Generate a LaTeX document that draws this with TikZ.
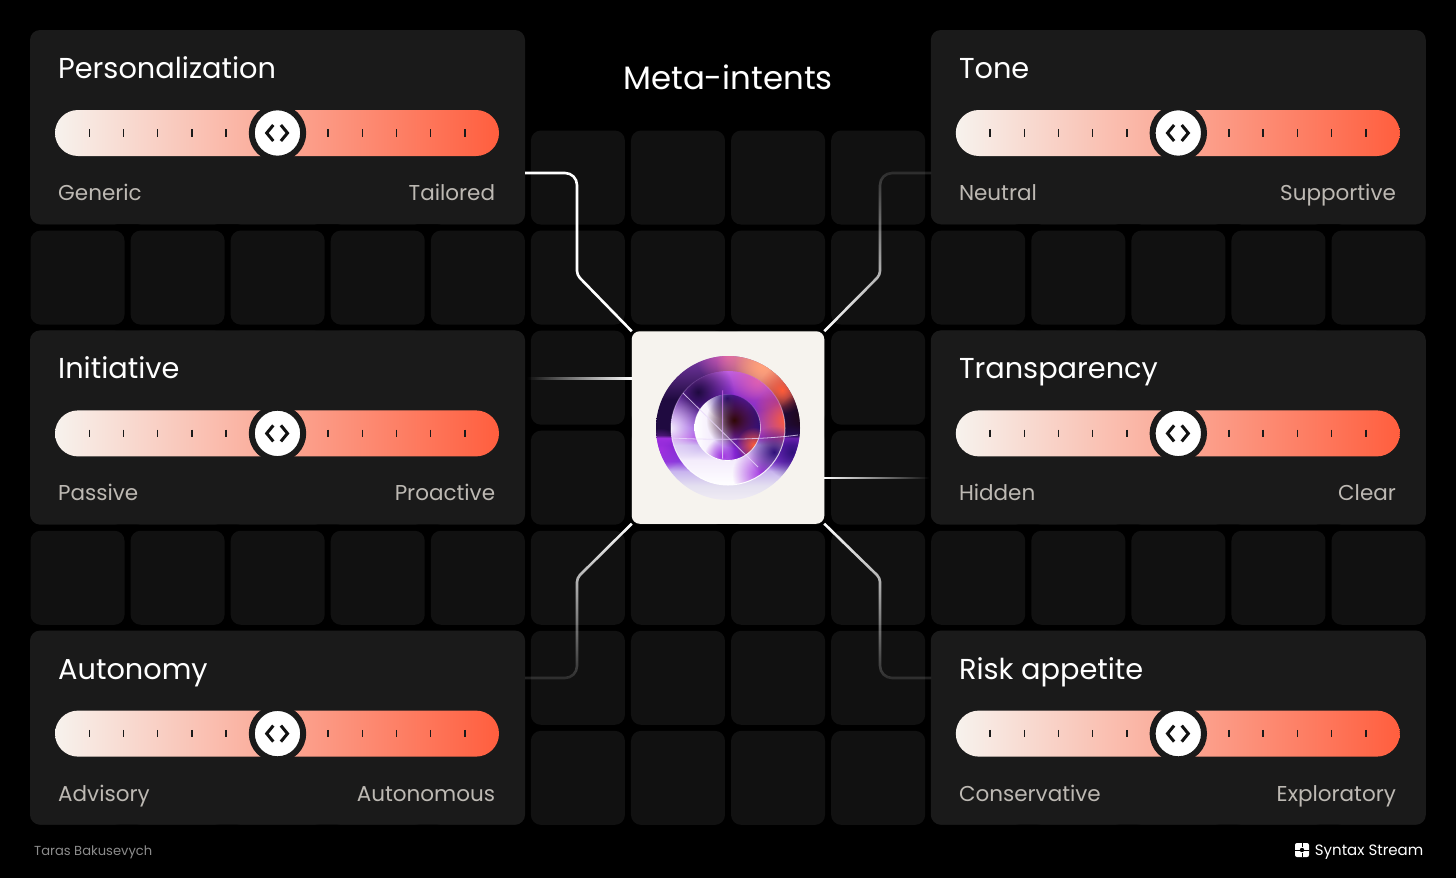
\documentclass[tikz,border=0pt]{standalone}
\usepackage{xcolor}
\usepackage{fontspec}
\setmainfont{Poppins}
\usetikzlibrary{fadings}

\definecolor{cardbg}{HTML}{1A1A1A}
\definecolor{tilebg}{HTML}{111111}
\definecolor{hubbg}{HTML}{F6F3EE}
\definecolor{trackl}{HTML}{F7F2ED}
\definecolor{trackr}{HTML}{FF5E3E}
\definecolor{sublabel}{HTML}{BDB9B3}
\definecolor{orbpale}{HTML}{F0ECF4}
\definecolor{orblav}{HTML}{E4E0F0}
\definecolor{orbmist}{HTML}{C8B4EE}
\definecolor{orbviolet}{HTML}{8A3CDC}
\definecolor{orbdeep}{HTML}{7A22CC}
\definecolor{orbvivid}{HTML}{A030E0}
\definecolor{orbnight}{HTML}{1F0A40}
\definecolor{orbindigo}{HTML}{30107A}
\definecolor{orbplum}{HTML}{7A3AA8}
\definecolor{orbpink}{HTML}{E060B0}
\definecolor{orbmauve}{HTML}{C060E0}
\definecolor{orbsalmon}{HTML}{FFA07A}
\definecolor{orbred}{HTML}{FF5C38}
\definecolor{orbtar}{HTML}{200818}
\definecolor{orbmaroon}{HTML}{300806}
\definecolor{orbfrost}{HTML}{F4ECFC}
\definecolor{orbline}{HTML}{E8D8FA}

\tikzfading[name=fadeup, top color=transparent!88, bottom color=transparent!0]
\tikzfading[name=fadedown, top color=transparent!0, bottom color=transparent!88]
\tikzfading[name=faderight, left color=transparent!100, right color=transparent!0]
\tikzfading[name=fadeleft, left color=transparent!0, right color=transparent!100]
\tikzfading[name=rimfade, top color=transparent!100, middle color=transparent!60, bottom color=transparent!0]
\tikzfading[name=blob, inner color=transparent!0, outer color=transparent!100]

\pgfdeclareverticalshading{orbouter}{100bp}{color(0bp)=(orbpale); color(25bp)=(orbpale); color(30bp)=(orblav); color(35bp)=(orbmist);
  color(38.5bp)=(orbviolet); color(44bp)=(orbdeep); color(46.5bp)=(orbvivid); color(47.5bp)=(orbnight);
  color(60bp)=(orbnight); color(75bp)=(orbplum); color(100bp)=(orbplum)}
\pgfdeclareverticalshading{orbmid}{100bp}{color(0bp)=(white); color(25bp)=(white); color(36bp)=(orbfrost); color(42.5bp)=(orbmist);
  color(46bp)=(orbvivid); color(50bp)=(orbviolet); color(62.5bp)=(orbdeep); color(75bp)=(orbmauve); color(100bp)=(orbmauve)}
\pgfdeclarehorizontalshading{orbinner}{100bp}{color(0bp)=(white); color(25bp)=(white); color(37.5bp)=(orbfrost); color(47.5bp)=(orbmist);
  color(55bp)=(orbdeep); color(75bp)=(orbindigo); color(100bp)=(orbindigo)}

\begin{document}
\begin{tikzpicture}[x=1pt,y=-1pt,
  tile/.style={fill=tilebg, rounded corners=10pt, minimum width=94pt, minimum height=94pt, inner sep=0pt, outer sep=0pt, anchor=north west},
  card/.style={fill=cardbg, rounded corners=10pt, minimum width=495pt, minimum height=194pt, inner sep=0pt, outer sep=0pt, anchor=north west},
  track/.style={left color=trackl, right color=trackr, rounded corners=23pt, minimum width=444pt, minimum height=46pt, inner sep=0pt, outer sep=0pt},
  knob/.style={circle, fill=white, draw=cardbg, line width=6pt, minimum size=51.4pt, inner sep=0pt, outer sep=0pt},
  heading/.style={text=white, anchor=base west, inner sep=0pt, font=\fontsize{28.8}{34}\selectfont},
  sublabel/.style={text=sublabel, inner sep=0pt, font=\fontsize{21.5}{26}\selectfont},
  conn/.style={white, line width=2.6pt}]
\newcommand*{\slidercard}[6]{%
  \node[card] (#1) at (#2,#3) {};
  \begin{scope}[shift={(#2,#3)}]
  \node[heading] (#1title) at (28,48.4) {#4};
  \node[track] (#1track) at (247,103) {};
  \foreach \tickx in {59.3,93.5,127.7,161.9,196,298,332.2,366.4,400.6,435}
    \draw[cardbg, line width=1.4pt] (\tickx,99.2) -- (\tickx,106.8);
  \node[knob] (#1knob) at (247.5,103) {};
  \draw[tilebg, line width=3pt] (243.3,95) -- (236.7,103) -- (243.3,111);
  \draw[tilebg, line width=3pt] (250.9,95) -- (257.5,103) -- (250.9,111);
  \node[sublabel, anchor=base west] (#1low) at (28,170.5) {#5};
  \node[sublabel, anchor=base east] (#1high) at (465.3,170.5) {#6};
  \end{scope}
}

\fill[black] (0,0) rectangle (1456,878);
\useasboundingbox (0,0) rectangle (1456,878);

% tiles
\foreach \col in {0,...,13}
  \foreach \row in {1,...,7}
    \node[tile] (tile\col-\row) at ({30.5+100.08*\col},{30.5+100.05*\row}) {};

% cards
\slidercard{pers}{30}{30}{Personalization}{Generic}{Tailored}
\slidercard{init}{30}{330.4}{Initiative}{Passive}{Proactive}
\slidercard{auto}{30}{630.6}{Autonomy}{Advisory}{Autonomous}
\slidercard{tone}{930.8}{30}{Tone}{Neutral}{Supportive}
\slidercard{tran}{930.8}{330.4}{Transparency}{Hidden}{Clear}
\slidercard{risk}{930.8}{630.6}{Risk appetite}{Conservative}{Exploratory}

\node[text=white, inner sep=0pt, anchor=base, font=\fontsize{32.4}{40}\selectfont] (title) at (728,89.5) {Meta-intents};

% hub
\node[fill=hubbg, rounded corners=8pt, minimum size=192.5pt, inner sep=0pt, outer sep=0pt] (hub) at (728,427.5) {};

% connectors
\coordinate (persout) at (525,173);
\coordinate (toneout) at (931,173);
\coordinate (autoout) at (525,678);
\coordinate (riskout) at (931,678);
\coordinate (initout) at (527,378.3);
\coordinate (tranout) at (929,478);

\draw[conn] (persout) [rounded corners=12pt] -- (577,173) [rounded corners=4pt] -- (577,275) -- (hub.north west);
\draw[conn, path fading=fadeup] (toneout) [rounded corners=12pt] -- (880,173) [rounded corners=4pt] -- (880,275) -- (hub.north east);
\draw[conn, path fading=fadedown] (hub.south west) [rounded corners=4pt] -- (577,578) [rounded corners=12pt] -- (577,678) -- (autoout);
\draw[conn, path fading=fadedown] (hub.south east) [rounded corners=4pt] -- (880,578) [rounded corners=12pt] -- (880,678) -- (riskout);
\fill[white, path fading=faderight] ([yshift=1.3pt]initout) rectangle ([yshift=-1.3pt]hub.west |- initout);
\fill[white, path fading=fadeleft] ([yshift=1.3pt]hub.east |- tranout) rectangle ([yshift=-1.3pt]tranout);

% orb
\begin{scope}
\clip (728,428) circle (72);
\shade[shading=orbouter] (656,356) rectangle (800,500);
\fill[orbpink, path fading=blob] (728,352) circle (34);
\fill[orbsalmon, path fading=blob] (762,366) circle (46);
\fill[orbsalmon, path fading=blob] (764,366) circle (30);
\fill[orbred, path fading=blob] (782,390) circle (24);
\fill[orbtar, path fading=blob] (802,416) circle (24);
\fill[orbindigo, path fading=blob] (792,452) circle (28);
\fill[orbvivid, path fading=blob] (660,450) circle (22);
\end{scope}
\begin{scope}
\clip (728,428) circle (57);
\shade[shading=orbmid] (671,371) rectangle (785,485);
\fill[orbnight, path fading=blob] (698,392) circle (36);
\fill[orbpink, path fading=blob] (758,380) circle (30);
\fill[orbred, path fading=blob] (786,420) circle (36);
\fill[orbvivid, path fading=blob] (762,474) circle (30);
\fill[orbindigo, path fading=blob] (774,452) circle (26);
\fill[orbfrost, path fading=blob] (670,428) circle (36);
\end{scope}
\draw[white, line width=1pt, path fading=rimfade] (728,428) circle (57);
\begin{scope}
\clip (727.5,427.5) circle (33);
\shade[shading=orbinner] (694.5,394.5) rectangle (760.5,460.5);
\fill[orbindigo, path fading=blob] (727,398) circle (22);
\fill[orbmaroon, path fading=blob] (734,420) circle (28);
\fill[orbred, path fading=blob] (754,445) circle (18);
\fill[orbvivid, path fading=blob] (722,456) circle (18);
\end{scope}
\draw[white, line width=.8pt, path fading=rimfade] (727.5,427.5) circle (33);
\draw[orbline, line width=.8pt, opacity=.8] (683,393) -- (758,467);
\draw[orbline, line width=.8pt, opacity=.8] (672,438) .. controls (710,440) and (760,440) .. (798,435);
\shade[top color=orbmauve, bottom color=orbline, opacity=.8] (722.3,390) rectangle (723.1,458);

% footer
\node[text=black!45, inner sep=0pt, anchor=base west, font=\fontsize{13.1}{16}\selectfont] (author) at (34,855) {Taras Bakusevych};
\node[text=white, inner sep=0pt, anchor=base east, font=\fontsize{15}{18}\selectfont] (brand) at (1423.5,855) {Syntax Stream};
\node[fill=white, rounded corners=2pt, minimum size=14pt, inner sep=0pt] (logo) at (1302,850) {};
\draw[black, line width=.8pt] (logo.west) -- (logo.east);
\draw[black, line width=.8pt] (logo.north) -- ++(0,4);
\draw[black, line width=.8pt] (logo.south) -- ++(0,-4);
\fill[black] (logo.center) circle (2.2);
\end{tikzpicture}
\end{document}
